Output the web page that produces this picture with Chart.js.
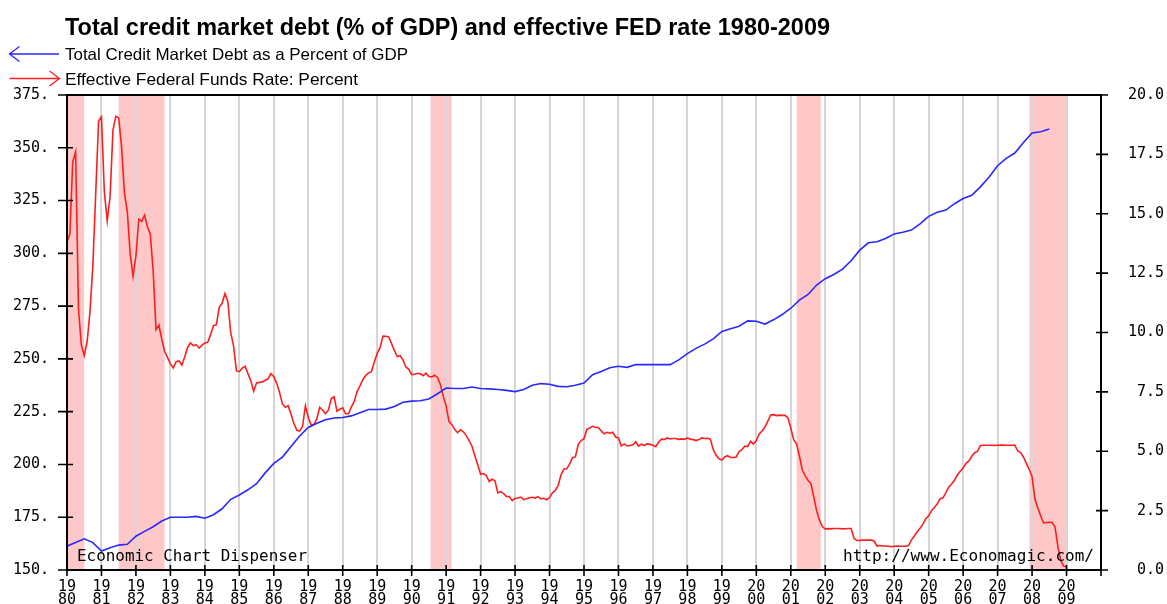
<!DOCTYPE html>
<html>
<head>
<meta charset="utf-8">
<script src="https://cdn.jsdelivr.net/npm/chart.js@4.4.1/dist/chart.umd.min.js"></script>
<style>
html,body{margin:0;padding:0;background:#fff;}
#wrap{width:1167px;height:604px;position:relative;}
canvas{display:block;}
</style>
</head>
<body>
<div id="wrap"><canvas id="c" width="1167" height="604"></canvas></div>
<script>
// ---------------- data ----------------
const chartTitle = 'Total credit market debt (% of GDP) and effective FED rate 1980-2009';
const seriesNames = ['Total Credit Market Debt as a Percent of GDP', 'Effective Federal Funds Rate: Percent'];
const watermarkLeft = 'Economic Chart Dispenser';
const watermarkRight = 'http://www.Economagic.com/';

const leftTicks = [150, 175, 200, 225, 250, 275, 300, 325, 350, 375];
const rightTicks = [0, 2.5, 5, 7.5, 10, 12.5, 15, 17.5, 20];
const yearTicks = [1980, 1981, 1982, 1983, 1984, 1985, 1986, 1987, 1988, 1989,
  1990, 1991, 1992, 1993, 1994, 1995, 1996, 1997, 1998, 1999,
  2000, 2001, 2002, 2003, 2004, 2005, 2006, 2007, 2008, 2009];
const xMin = 1980, xMax = 2010;

// Total credit market debt, % of GDP (quarterly, from 1980 Q1)
const debtStartYear = 1980;
const debtPctGdp = [
  161.3, 163.0, 164.8, 163.0,
  159.0, 160.5, 161.8, 162.2,
  166.0, 168.3, 170.5, 173.2,
  175.0, 175.0, 175.0, 175.4,
  174.5, 176.2, 179.0, 183.5,
  185.5, 188.0, 190.9, 196.0,
  200.5, 203.5, 208.5, 213.5,
  217.5, 219.5, 221.2, 222.0,
  222.2, 223.0, 224.5, 226.0,
  226.0, 226.2, 227.5, 229.5,
  230.0, 230.2, 231.0, 233.5,
  236.2, 236.0, 236.0, 236.7,
  236.0, 235.8, 235.5, 235.1,
  234.5, 235.5, 237.5, 238.3,
  238.0, 237.0, 236.8, 237.5,
  238.6, 242.5, 244.0, 245.8,
  246.5, 246.0, 247.3, 247.3,
  247.3, 247.3, 247.3, 249.5,
  252.5, 255.0, 257.0, 259.5,
  263.0, 264.3, 265.5, 268.0,
  267.8, 266.5, 268.5, 271.0,
  274.0, 277.8, 280.5, 285.0,
  288.0, 290.0, 292.5, 296.5,
  301.5, 305.0, 305.5, 307.0,
  309.2, 310.0, 311.0, 314.0,
  317.5, 319.5, 320.5, 323.5,
  326.0, 327.5, 331.5, 336.0,
  341.5, 345.0, 347.5, 352.5,
  357.0, 357.6, 358.9
];

// Effective federal funds rate, percent (monthly, from Jan 1980)
const rateStartYear = 1980;
const fedFundsRate = [
  13.82, 14.13, 17.19, 17.61, 10.98, 9.47, 9.03, 9.61, 10.87, 12.81, 15.85, 18.90,
  19.08, 15.93, 14.70, 15.72, 18.52, 19.10, 19.04, 17.82, 15.87, 15.08, 13.31, 12.37,
  13.22, 14.78, 14.68, 14.94, 14.45, 14.15, 12.59, 10.12, 10.31, 9.71, 9.20, 8.95,
  8.68, 8.51, 8.77, 8.80, 8.63, 8.98, 9.37, 9.56, 9.45, 9.48, 9.34, 9.47,
  9.56, 9.59, 9.91, 10.29, 10.32, 11.06, 11.23, 11.64, 11.30, 9.99, 9.43, 8.38,
  8.35, 8.50, 8.58, 8.27, 7.97, 7.53, 7.88, 7.90, 7.92, 7.99, 8.05, 8.27,
  8.14, 7.86, 7.48, 6.99, 6.85, 6.92, 6.56, 6.17, 5.89, 5.85, 6.04, 6.91,
  6.43, 6.10, 6.13, 6.37, 6.85, 6.73, 6.58, 6.73, 7.22, 7.29, 6.69, 6.77,
  6.83, 6.58, 6.58, 6.87, 7.09, 7.51, 7.75, 8.01, 8.19, 8.30, 8.35, 8.76,
  9.12, 9.36, 9.85, 9.84, 9.81, 9.53, 9.24, 8.99, 9.02, 8.84, 8.55, 8.45,
  8.23, 8.24, 8.28, 8.26, 8.18, 8.29, 8.15, 8.13, 8.20, 8.11, 7.81, 7.31,
  6.91, 6.25, 6.12, 5.91, 5.78, 5.90, 5.82, 5.66, 5.45, 5.21, 4.81, 4.43,
  4.03, 4.06, 3.98, 3.73, 3.82, 3.76, 3.25, 3.30, 3.22, 3.10, 3.09, 2.92,
  3.02, 3.03, 3.07, 2.96, 3.00, 3.04, 3.06, 3.03, 3.09, 2.99, 3.02, 2.96,
  3.05, 3.25, 3.34, 3.56, 4.01, 4.25, 4.26, 4.47, 4.73, 4.76, 5.29, 5.45,
  5.53, 5.92, 5.98, 6.05, 6.01, 6.00, 5.85, 5.74, 5.80, 5.76, 5.80, 5.60,
  5.56, 5.22, 5.31, 5.22, 5.24, 5.27, 5.40, 5.22, 5.30, 5.24, 5.31, 5.29,
  5.25, 5.19, 5.39, 5.51, 5.50, 5.56, 5.52, 5.54, 5.54, 5.50, 5.52, 5.50,
  5.56, 5.51, 5.49, 5.45, 5.49, 5.56, 5.54, 5.55, 5.51, 5.07, 4.83, 4.68,
  4.63, 4.76, 4.81, 4.74, 4.74, 4.76, 4.99, 5.07, 5.22, 5.20, 5.42, 5.30,
  5.45, 5.73, 5.85, 6.02, 6.27, 6.53, 6.54, 6.50, 6.52, 6.51, 6.51, 6.40,
  5.98, 5.49, 5.31, 4.80, 4.21, 3.97, 3.77, 3.65, 3.07, 2.49, 2.09, 1.82,
  1.73, 1.74, 1.73, 1.75, 1.75, 1.75, 1.73, 1.74, 1.75, 1.75, 1.34, 1.24,
  1.24, 1.26, 1.25, 1.26, 1.26, 1.22, 1.01, 1.03, 1.01, 1.01, 1.00, 0.98,
  1.00, 1.01, 1.00, 1.00, 1.00, 1.03, 1.26, 1.43, 1.61, 1.76, 1.93, 2.16,
  2.28, 2.50, 2.63, 2.79, 3.00, 3.04, 3.26, 3.50, 3.62, 3.78, 4.00, 4.16,
  4.29, 4.49, 4.59, 4.79, 4.94, 4.99, 5.24, 5.25, 5.25, 5.25, 5.25, 5.24,
  5.25, 5.26, 5.26, 5.25, 5.25, 5.25, 5.26, 5.02, 4.94, 4.76, 4.49, 4.24,
  3.94, 2.98, 2.61, 2.28, 1.98, 2.00, 2.01, 2.00, 1.81, 0.97, 0.39, 0.16,
  0.15
];

// Recession periods (decimal years)
const recessionStart = [1980.0, 1981.5, 1990.55, 2001.17, 2007.92];
const recessionEnd   = [1980.5, 1982.83, 1991.16, 2001.87, 2009.0];

// ---------------- styling ----------------
const BLUE = 'rgb(40,40,255)';
const RED = 'rgb(255,30,30)';
const PINK = 'rgb(255,200,200)';
const GRID = 'rgb(214,214,214)';
const MONO = '"DejaVu Sans Mono", "Liberation Mono", monospace';
const SANS = '"Liberation Sans", Arial, sans-serif';

function fitText(ctx, text, x, y, width, font, align) {
  ctx.save();
  ctx.font = font;
  const w = ctx.measureText(text).width;
  const s = width / w;
  ctx.translate(x, y);
  ctx.scale(s, 1);
  ctx.textAlign = align || 'left';
  ctx.fillText(text, 0, 0);
  ctx.restore();
}

function drawArrow(ctx, x1, x2, y, color, pointLeft) {
  ctx.save();
  ctx.strokeStyle = color;
  ctx.lineWidth = 1.3;
  ctx.beginPath();
  ctx.moveTo(x1, y); ctx.lineTo(x2, y);
  if (pointLeft) {
    ctx.moveTo(x1 + 10, y - 7.5); ctx.lineTo(x1, y); ctx.lineTo(x1 + 10, y + 7.5);
  } else {
    ctx.moveTo(x2 - 10, y - 7.5); ctx.lineTo(x2, y); ctx.lineTo(x2 - 10, y + 7.5);
  }
  ctx.stroke();
  ctx.restore();
}

const decor = {
  id: 'decor',
  beforeDraw(chart) {
    const ctx = chart.ctx;
    const a = chart.chartArea;
    const xs = chart.scales.x;
    ctx.save();
    ctx.fillStyle = '#fff';
    ctx.fillRect(0, 0, chart.width, chart.height);
    ctx.fillStyle = PINK;
    for (let i = 0; i < recessionStart.length; i++) {
      const x1 = xs.getPixelForValue(recessionStart[i]);
      const x2 = xs.getPixelForValue(recessionEnd[i]);
      ctx.fillRect(x1, a.top, x2 - x1, a.bottom - a.top);
    }
    ctx.restore();
  },
  afterDraw(chart) {
    const ctx = chart.ctx;
    const a = chart.chartArea;
    const xs = chart.scales.x, yl = chart.scales.yL, yr = chart.scales.yR;
    ctx.save();
    // frame
    ctx.strokeStyle = '#000';
    ctx.lineWidth = 2;
    ctx.strokeRect(a.left, a.top, a.right - a.left, a.bottom - a.top);
    // tick marks crossing the axes
    ctx.lineWidth = 1.6;
    ctx.beginPath();
    leftTicks.forEach(v => {
      const y = yl.getPixelForValue(v);
      ctx.moveTo(a.left - 9, y); ctx.lineTo(a.left + 6, y);
    });
    rightTicks.forEach(v => {
      const y = yr.getPixelForValue(v);
      ctx.moveTo(a.right - 5, y); ctx.lineTo(a.right + 7, y);
    });
    yearTicks.concat([xMax]).forEach(v => {
      const x = xs.getPixelForValue(v);
      ctx.moveTo(x, a.bottom - 5); ctx.lineTo(x, a.bottom + 6);
    });
    ctx.stroke();

    // title
    ctx.fillStyle = '#000';
    ctx.textBaseline = 'alphabetic';
    fitText(ctx, chartTitle, 65, 34.5, 765, 'bold 24px ' + SANS);
    // legend
    drawArrow(ctx, 9.5, 59, 54, BLUE, true);
    fitText(ctx, seriesNames[0], 65, 60, 343, '16.5px ' + SANS);
    drawArrow(ctx, 9.5, 59.5, 78.5, RED, false);
    fitText(ctx, seriesNames[1], 65, 84.5, 293, '16.5px ' + SANS);
    // watermarks
    fitText(ctx, watermarkLeft, 77, 561, 230, '15px ' + MONO);
    fitText(ctx, watermarkRight, 843, 561, 251, '15px ' + MONO);
    ctx.restore();
  }
};

const debtData = debtPctGdp.map((v, i) => ({ x: debtStartYear + i / 4, y: v }));
const rateData = fedFundsRate.map((v, i) => ({ x: rateStartYear + i / 12, y: v }));

const tickFont = { family: MONO, size: 15, lineHeight: 0.87 };

new Chart(document.getElementById('c'), {
  type: 'line',
  data: {
    datasets: [
      { label: seriesNames[0], data: debtData, yAxisID: 'yL', borderColor: BLUE, borderWidth: 1.6,
        pointRadius: 0, tension: 0, fill: false },
      { label: seriesNames[1], data: rateData, yAxisID: 'yR', borderColor: RED, borderWidth: 1.6,
        pointRadius: 0, tension: 0, fill: false }
    ]
  },
  options: {
    responsive: false,
    animation: false,
    devicePixelRatio: 1,
    layout: { padding: { top: 95, right: 3, left: 0, bottom: 0 } },
    plugins: { legend: { display: false }, tooltip: { enabled: false }, title: { display: false } },
    scales: {
      x: {
        type: 'linear', position: 'bottom', min: xMin, max: xMax,
        afterBuildTicks: s => { s.ticks = yearTicks.concat([xMax]).map(v => ({ value: v })); },
        afterFit: s => { s.height = 34; },
        ticks: {
          autoSkip: false, maxRotation: 0, minRotation: 0, color: '#000', font: tickFont, padding: 11,
          callback: v => yearTicks.includes(v) ? [String(v).slice(0, 2), String(v).slice(2)] : ''
        },
        grid: {
          drawTicks: false, lineWidth: 2,
          color: c => (c.tick && (c.tick.value === xMin || c.tick.value === xMax)) ? 'rgba(0,0,0,0)' : GRID
        },
        border: { display: false }
      },
      yL: {
        type: 'linear', position: 'left', min: leftTicks[0], max: leftTicks[leftTicks.length - 1],
        afterBuildTicks: s => { s.ticks = leftTicks.map(v => ({ value: v })); },
        afterFit: s => { s.width = 67; },
        ticks: { color: '#000', font: tickFont, padding: 18, callback: v => v + '.' },
        grid: { display: false, drawTicks: false },
        border: { display: false }
      },
      yR: {
        type: 'linear', position: 'right', min: rightTicks[0], max: rightTicks[rightTicks.length - 1],
        afterBuildTicks: s => { s.ticks = rightTicks.map(v => ({ value: v })); },
        afterFit: s => { s.width = 63; },
        ticks: { color: '#000', font: tickFont, padding: 20, crossAlign: 'far', callback: v => Number(v).toFixed(1) },
        grid: { display: false, drawTicks: false },
        border: { display: false }
      }
    }
  },
  plugins: [decor]
});
</script>
</body>
</html>
